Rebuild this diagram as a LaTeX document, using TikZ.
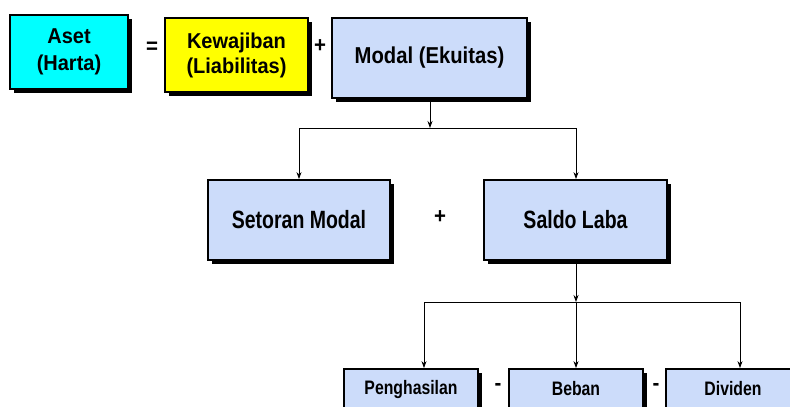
\documentclass[tikz,border=0pt]{standalone}
\usepackage{fontspec}
\setmainfont{Liberation Sans}
\newfontface\fTop[FakeStretch=0.93]{Liberation Sans Bold}
\newfontface\fMod[FakeStretch=0.88]{Liberation Sans Bold}
\newfontface\fMid[FakeStretch=0.78]{Liberation Sans Bold}
\newfontface\fBot[FakeStretch=0.81]{Liberation Sans Bold}
\usetikzlibrary{arrows.meta,shadows}
\definecolor{boxblue}{RGB}{204,220,250}
\definecolor{boxcyan}{RGB}{0,255,255}
\definecolor{boxyellow}{RGB}{255,255,0}
\tikzset{
  box/.style={draw=black, line width=1.8pt, inner sep=0pt, align=center,
    drop shadow={shadow xshift=4pt, shadow yshift=-4pt, fill=black, opacity=1}},
  topfont/.style={font=\fTop\fontsize{21.5}{27}\selectfont},
  modfont/.style={font=\fMod\fontsize{23}{27}\selectfont},
  midfont/.style={font=\fMid\fontsize{25}{27}\selectfont},
  botfont/.style={font=\fBot\fontsize{19.5}{22}\selectfont},
  sign/.style={font=\fTop\fontsize{22}{24}\selectfont, inner sep=0pt},
  conn/.style={line width=0.8pt, -{Stealth[length=7pt,width=5pt]}},
  seg/.style={line width=0.8pt}
}
\begin{document}
\begin{tikzpicture}[x=1pt,y=-1pt]
\useasboundingbox (0,0) rectangle (790,407);
\fill[white] (0,0) rectangle (790,407);
% top row
\node[box, topfont, fill=boxcyan, minimum width=118pt, minimum height=74pt] (aset) at (69,52) {Aset\\(Harta)};
\node[sign] (eq) at (152,48) {=};
\node[box, topfont, fill=boxyellow, minimum width=143pt, minimum height=74pt] (kew) at (236.5,55) {Kewajiban\\[-2pt](Liabilitas)};
\node[sign] (plus1) at (320,46) {+};
\node[box, modfont, fill=boxblue, minimum width=195pt, minimum height=80pt] (modal) at (429.5,58) {Modal (Ekuitas)};
% second row
\node[box, midfont, fill=boxblue, minimum width=182pt, minimum height=80pt] (setor) at (299,220) {Setoran Modal};
\node[sign] (plus2) at (440,217) {+};
\node[box, midfont, fill=boxblue, minimum width=183pt, minimum height=80pt] (saldo) at (575.5,220) {Saldo Laba};
% third row
\node[box, botfont, fill=boxblue, minimum width=134pt, minimum height=40pt] (peng) at (411,389) {Penghasilan};
\node[sign] (minus1) at (498,387) {-};
\node[box, botfont, fill=boxblue, minimum width=134pt, minimum height=40pt] (beban) at (576,389) {Beban};
\node[sign] (minus2) at (656,387) {-};
\node[box, botfont, fill=boxblue, minimum width=134pt, minimum height=40pt] (divid) at (733,389) {Dividen};
% connectors level 1
\coordinate (j1) at (430,128);
\coordinate (j1l) at (299,128);
\coordinate (j1r) at (576,128);
\draw[conn] (modal.south -| j1) -- (j1);
\draw[seg] (j1l) -- (j1r);
\draw[conn] (j1l) -- (j1l |- setor.north);
\draw[conn] (j1r) -- (j1r |- saldo.north);
% connectors level 2
\coordinate (j2) at (576,302);
\coordinate (j2l) at (424,302);
\coordinate (j2r) at (740,302);
\draw[conn] (saldo.south -| j2) -- (j2);
\draw[seg] (j2l) -- (j2r);
\draw[conn] (j2l) -- (j2l |- peng.north);
\draw[conn] (j2) -- (j2 |- beban.north);
\draw[conn] (j2r) -- (j2r |- divid.north);
\end{tikzpicture}
\end{document}
